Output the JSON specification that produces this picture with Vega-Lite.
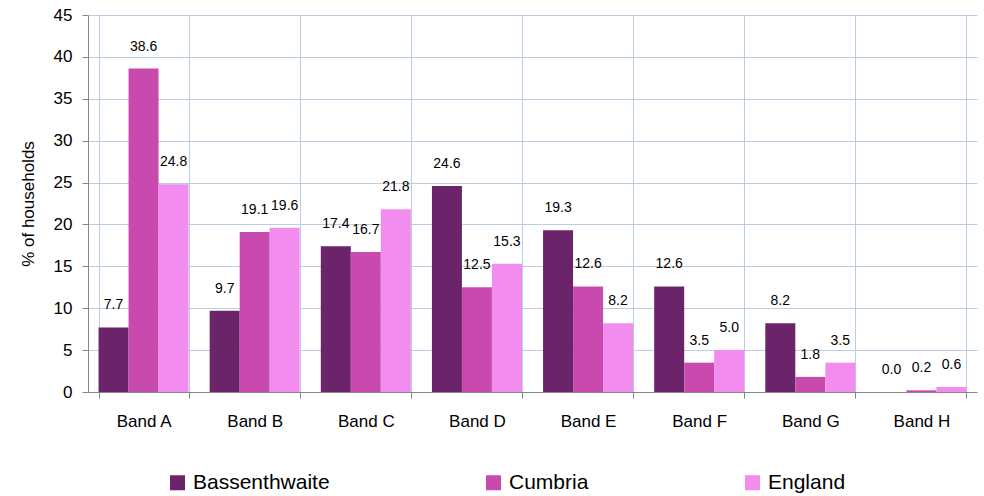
{
  "$schema": "https://vega.github.io/schema/vega-lite/v6.json",
  "width": 889,
  "height": 377,
  "autosize": "none",
  "padding": {"left": 88, "top": 15, "right": 7, "bottom": 104},
  "background": "white",
  "config": {
    "font": "Liberation Sans",
    "view": {"stroke": null}
  },
  "data": {
    "values": [
      {"band": "Band A", "area": "Bassenthwaite", "pct": 7.7},
      {"band": "Band A", "area": "Cumbria", "pct": 38.6},
      {"band": "Band A", "area": "England", "pct": 24.8},
      {"band": "Band B", "area": "Bassenthwaite", "pct": 9.7},
      {"band": "Band B", "area": "Cumbria", "pct": 19.1},
      {"band": "Band B", "area": "England", "pct": 19.6},
      {"band": "Band C", "area": "Bassenthwaite", "pct": 17.4},
      {"band": "Band C", "area": "Cumbria", "pct": 16.7},
      {"band": "Band C", "area": "England", "pct": 21.8},
      {"band": "Band D", "area": "Bassenthwaite", "pct": 24.6},
      {"band": "Band D", "area": "Cumbria", "pct": 12.5},
      {"band": "Band D", "area": "England", "pct": 15.3},
      {"band": "Band E", "area": "Bassenthwaite", "pct": 19.3},
      {"band": "Band E", "area": "Cumbria", "pct": 12.6},
      {"band": "Band E", "area": "England", "pct": 8.2},
      {"band": "Band F", "area": "Bassenthwaite", "pct": 12.6},
      {"band": "Band F", "area": "Cumbria", "pct": 3.5},
      {"band": "Band F", "area": "England", "pct": 5.0},
      {"band": "Band G", "area": "Bassenthwaite", "pct": 8.2},
      {"band": "Band G", "area": "Cumbria", "pct": 1.8},
      {"band": "Band G", "area": "England", "pct": 3.5},
      {"band": "Band H", "area": "Bassenthwaite", "pct": 0.0},
      {"band": "Band H", "area": "Cumbria", "pct": 0.2},
      {"band": "Band H", "area": "England", "pct": 0.6}
    ]
  },
  "encoding": {
    "x": {
      "field": "band", "type": "nominal", "sort": null,
      "scale": {"paddingInner": 0.19, "paddingOuter": 0.095},
      "axis": {
        "title": null, "labelAngle": 0, "labelFontSize": 17, "labelColor": "#000000",
        "labelPadding": 15, "tickBand": "extent", "tickSize": 6, "tickColor": "#868686",
        "domainColor": "#868686", "grid": true, "gridColor": "#b9cde5", "gridWidth": 1
      }
    },
    "xOffset": {"field": "area", "type": "nominal", "scale": {"paddingInner": 0, "paddingOuter": 0}},
    "y": {
      "field": "pct", "type": "quantitative",
      "scale": {"domain": [0, 45], "nice": false},
      "axis": {
        "title": "% of households", "titleFontSize": 17, "titleFontWeight": "normal", "titleColor": "#000000",
        "titlePadding": 16,
        "values": [0, 5, 10, 15, 20, 25, 30, 35, 40, 45],
        "labelFontSize": 17, "labelColor": "#000000", "labelPadding": 10,
        "tickSize": 6, "tickColor": "#868686", "domainColor": "#868686",
        "grid": true, "gridColor": "#b9cde5", "gridWidth": 1
      }
    }
  },
  "layer": [
    {
      "mark": {"type": "bar"},
      "encoding": {
        "color": {
          "field": "area", "type": "nominal",
          "scale": {"domain": ["Bassenthwaite", "Cumbria", "England"], "range": ["#6b2369", "#c94aae", "#f28cee"]},
          "legend": {
            "title": null, "orient": "none", "direction": "horizontal",
            "legendX": 79, "legendY": 457, "padding": 0,
            "symbolType": "square", "symbolSize": 225, "symbolStrokeWidth": 0, "symbolOpacity": 1,
            "labelFontSize": 21, "labelColor": "#000000", "labelOffset": 5, "columnPadding": 153,
            "labelLimit": 300
          }
        }
      }
    },
    {
      "mark": {"type": "text", "baseline": "alphabetic", "dy": -18, "fontSize": 14, "color": "#000000"},
      "encoding": {
        "text": {"field": "pct", "type": "quantitative", "format": ".1f"}
      }
    }
  ]
}
